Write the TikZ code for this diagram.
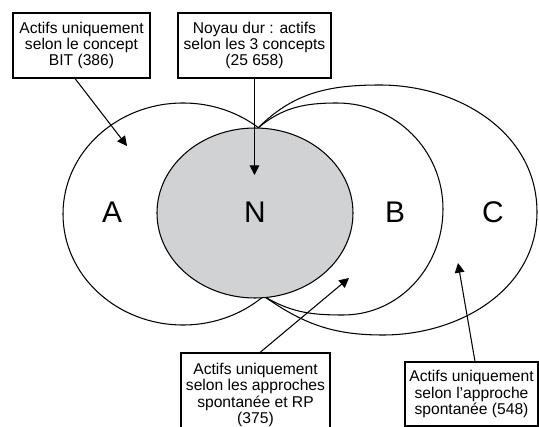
\documentclass[tikz,border=0pt]{standalone}
\usepackage{fontspec}
\setmainfont{Liberation Sans}
\usetikzlibrary{shapes,arrows,arrows.meta,positioning,calc}
\tikzset{box node/.style={draw,line width=0.6pt,align=center,inner sep=0pt,font=\fontsize{8.9}{9.2}\selectfont},
}
\tikzstyle{set letter}=[font=\fontsize{17}{20}\selectfont]
\tikzstyle{pointer}=[draw,line width=0.6pt,-{Triangle[length=5.5pt,width=5.5pt]}]
\definecolor{noyaugray}{RGB}{209,210,212}

\begin{document}
\begin{tikzpicture}[x=0.02cm,y=0.02cm,line width=0.6pt]
	\useasboundingbox (0,0) rectangle (539,427);
	\clip (0,0) rectangle (539,427);
	% ensembles A, B, C et noyau N
	\draw (183,213) ellipse [x radius=120, y radius=111];
	\coordinate (top) at (258,299);
	\coordinate (bot) at (265,130);
	\draw (top) to[out=40,in=180] (337,324) to[out=0,in=90] (443,218)
		to[out=-90,in=0] (343,112) to[out=180,in=-30] (bot);
	\draw (top) to[out=45,in=180] (380,342) to[out=0,in=90] (537,215)
		to[out=-90,in=0] (383,92) to[out=180,in=-35] (bot);
	\draw[fill=noyaugray] (255,214) ellipse [x radius=98, y radius=85];
	
	\node[set letter] (a) at (112,215) {A};
	\node[set letter] (n) at (255,215) {N};
	\node[set letter] (b) at (395,215) {B};
	\node[set letter] (c) at (493,215) {C};
	
	% encadres
	\node[box node,minimum width=2.74cm,minimum height=1.3cm] (bit) at (81.5,381.5)
		{Actifs uniquement\\selon le concept\\BIT (386)};
	\node[box node,minimum width=3.06cm,minimum height=1.3cm] (noyau) at (254.5,381.5)
		{Noyau dur : actifs\\selon les 3 concepts\\(25 658)};
	\node[box node,minimum width=2.98cm,minimum height=1.68cm] (rp) at (255.5,32)
		{Actifs uniquement\\selon les approches\\spontanée et RP\\(375)};
	\node[box node,minimum width=2.66cm,minimum height=1.28cm] (spont) at (471.5,33)
		{Actifs uniquement\\selon l’approche\\spontanée (548)};
	
	\coordinate (tip a) at (127,281);
	\coordinate (tip n) at (254.5,252);
	\coordinate (tip rp) at (349,149);
	\coordinate (tip c) at (458,164);
	
	\path[pointer] ([xshift=-0.13cm]bit.south) -- (tip a);
	\path[pointer] (noyau.south) -- (tip n);
	\path[pointer] ([xshift=0.09cm]rp.north) -- (tip rp);
	\path[pointer] ([xshift=0.07cm]spont.north) -- (tip c);
\end{tikzpicture}
\end{document}
